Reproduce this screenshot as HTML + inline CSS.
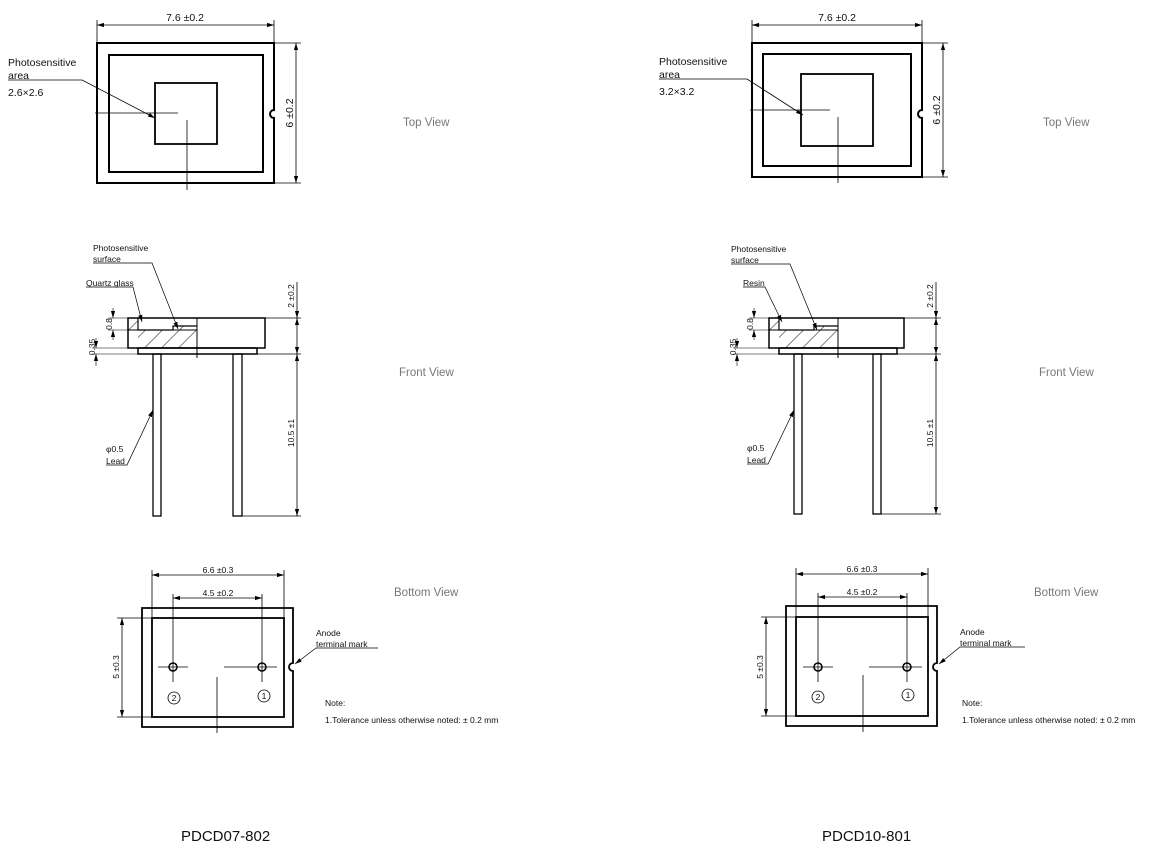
<!DOCTYPE html>
<html><head><meta charset="utf-8"><style>
html,body{margin:0;padding:0;background:#fff;}
svg{display:block;}
text{font-family:"Liberation Sans",Arial,sans-serif;fill:#111;}
.v{fill:#777;font-size:11.5px;}
.s{font-size:10.5px;}
.xs{font-size:8.5px;}
.t{font-size:15px;}
</style></head><body>
<svg width="1163" height="850" viewBox="0 0 1163 850" xmlns="http://www.w3.org/2000/svg">
<defs>
<marker id="a" viewBox="0 0 10 10" refX="10" refY="5" markerWidth="7" markerHeight="7" orient="auto-start-reverse" markerUnits="userSpaceOnUse"><path d="M0,2 L10,5 L0,8 z" fill="#000"/></marker>
<pattern id="h" width="12" height="12" patternUnits="userSpaceOnUse" patternTransform="rotate(45)"><line x1="0" y1="0" x2="0" y2="12" stroke="#000" stroke-width="0.9"/></pattern>
</defs>

<!-- ================= LEFT ================= -->
<g fill="none" stroke="#000">
<path d="M97,43 H274 V110 A4,4 0 0 0 274,118 V183 H97 Z" stroke-width="2"/>
<rect x="109" y="55" width="154" height="117" stroke-width="2"/>
<rect x="155" y="83" width="62" height="61" stroke-width="1.8"/>
<line x1="95" y1="113" x2="178" y2="113" stroke-width="0.8"/>
<line x1="187" y1="120" x2="187" y2="190" stroke-width="0.8"/>
<line x1="97" y1="20" x2="97" y2="43" stroke-width="0.8"/>
<line x1="274" y1="20" x2="274" y2="43" stroke-width="0.8"/>
<line x1="97" y1="25" x2="274" y2="25" stroke-width="0.8" marker-start="url(#a)" marker-end="url(#a)"/>
<line x1="274" y1="43" x2="301" y2="43" stroke-width="0.8"/>
<line x1="274" y1="183" x2="301" y2="183" stroke-width="0.8"/>
<line x1="296" y1="43" x2="296" y2="183" stroke-width="0.8" marker-start="url(#a)" marker-end="url(#a)"/>
<polyline points="8,80 82,80 155,118" stroke-width="0.8" marker-end="url(#a)"/>
</g>
<text x="185" y="21" class="s" text-anchor="middle">7.6 ±0.2</text>
<text transform="translate(293,113) rotate(-90)" class="s" text-anchor="middle">6 ±0.2</text>
<text x="8" y="66" class="s">Photosensitive</text>
<text x="8" y="79" class="s">area</text>
<text x="8" y="96" class="s">2.6×2.6</text>
<text x="403" y="126" class="v">Top View</text>

<g fill="none" stroke="#000">
<path d="M128,330 H173 V326 H197 V348 H138 V330 H128 Z M128,318 H138 V330 H128 Z" fill="url(#h)" stroke="none"/>
<rect x="128" y="318" width="137" height="30" stroke-width="1.5"/>
<rect x="138" y="348" width="119" height="6" stroke-width="1.5"/>
<polyline points="138,318 138,330 173,330 173,326 197,326" stroke-width="1.2"/>
<line x1="197" y1="318" x2="197" y2="358" stroke-width="1"/>
<line x1="128" y1="330" x2="197" y2="330" stroke-width="1"/>
<rect x="153" y="354" width="8" height="162" stroke-width="1.3"/>
<rect x="233" y="354" width="9" height="162" stroke-width="1.3"/>
<line x1="265" y1="318" x2="301" y2="318" stroke-width="0.8"/>
<line x1="257" y1="354" x2="301" y2="354" stroke-width="0.8"/>
<line x1="242" y1="516" x2="301" y2="516" stroke-width="0.8"/>
<line x1="297" y1="282" x2="297" y2="318" stroke-width="0.8" marker-end="url(#a)"/>
<line x1="297" y1="318" x2="297" y2="354" stroke-width="0.8" marker-start="url(#a)" marker-end="url(#a)"/>
<line x1="297" y1="354" x2="297" y2="516" stroke-width="0.8" marker-start="url(#a)" marker-end="url(#a)"/>
<line x1="108" y1="318" x2="128" y2="318" stroke-width="0.6"/>
<line x1="108" y1="330" x2="128" y2="330" stroke-width="0.6"/>
<line x1="113" y1="308" x2="113" y2="318" stroke-width="0.6" marker-end="url(#a)"/>
<line x1="113" y1="340" x2="113" y2="330" stroke-width="0.6" marker-end="url(#a)"/>
<line x1="92" y1="348" x2="128" y2="348" stroke-width="0.6"/>
<line x1="92" y1="354" x2="138" y2="354" stroke-width="0.6"/>
<line x1="96" y1="338" x2="96" y2="348" stroke-width="0.6" marker-end="url(#a)"/>
<line x1="96" y1="366" x2="96" y2="354" stroke-width="0.6" marker-end="url(#a)"/>
<polyline points="93,263 152,263 178,329" stroke-width="0.7" marker-end="url(#a)"/>
<polyline points="86,287 133,287 142,322" stroke-width="0.7" marker-end="url(#a)"/>
<polyline points="106,465 127,465 153,410" stroke-width="0.7" marker-end="url(#a)"/>
</g>
<text x="93" y="251" class="xs">Photosensitive</text>
<text x="93" y="262" class="xs">surface</text>
<text x="86" y="286" class="xs">Quartz glass</text>
<text transform="translate(112,324) rotate(-90)" class="xs" text-anchor="middle">0.8</text>
<text transform="translate(95,347) rotate(-90)" class="xs" text-anchor="middle">0.35</text>
<text transform="translate(294,296) rotate(-90)" class="xs" text-anchor="middle">2 ±0.2</text>
<text transform="translate(294,433) rotate(-90)" class="xs" text-anchor="middle">10.5 ±1</text>
<text x="106" y="452" class="xs">φ0.5</text>
<text x="106" y="464" class="xs">Lead</text>
<text x="399" y="376" class="v">Front View</text>

<g fill="none" stroke="#000">
<path d="M142,608 H293 V663 A4,4 0 0 0 293,671 V727 H142 Z" stroke-width="1.8"/>
<rect x="152" y="618" width="132" height="99" stroke-width="1.8"/>
<circle cx="173" cy="667" r="4" stroke-width="1.5"/>
<circle cx="262" cy="667" r="4" stroke-width="1.5"/>
<line x1="158" y1="667" x2="188" y2="667" stroke-width="0.8"/>
<line x1="173" y1="594" x2="173" y2="682" stroke-width="0.8"/>
<line x1="224" y1="667" x2="277" y2="667" stroke-width="0.8"/>
<line x1="262" y1="594" x2="262" y2="682" stroke-width="0.8"/>
<line x1="217" y1="677" x2="217" y2="733" stroke-width="0.8"/>
<line x1="152" y1="570" x2="152" y2="618" stroke-width="0.8"/>
<line x1="284" y1="570" x2="284" y2="618" stroke-width="0.8"/>
<line x1="152" y1="575" x2="284" y2="575" stroke-width="0.8" marker-start="url(#a)" marker-end="url(#a)"/>
<line x1="173" y1="598" x2="262" y2="598" stroke-width="0.8" marker-start="url(#a)" marker-end="url(#a)"/>
<line x1="117" y1="618" x2="152" y2="618" stroke-width="0.8"/>
<line x1="117" y1="717" x2="152" y2="717" stroke-width="0.8"/>
<line x1="122" y1="618" x2="122" y2="717" stroke-width="0.8" marker-start="url(#a)" marker-end="url(#a)"/>
<circle cx="174" cy="698" r="6" stroke-width="0.8"/>
<circle cx="264" cy="696" r="6" stroke-width="0.8"/>
<polyline points="378,648 316,648 295,664" stroke-width="0.7" marker-end="url(#a)"/>
</g>
<text x="218" y="573" class="xs" text-anchor="middle">6.6 ±0.3</text>
<text x="218" y="596" class="xs" text-anchor="middle">4.5 ±0.2</text>
<text transform="translate(119,667) rotate(-90)" class="xs" text-anchor="middle">5 ±0.3</text>
<text x="174" y="701" class="xs" text-anchor="middle">2</text>
<text x="264" y="699" class="xs" text-anchor="middle">1</text>
<text x="316" y="636" class="xs">Anode</text>
<text x="316" y="647" class="xs">terminal mark</text>
<text x="325" y="706" class="xs">Note:</text>
<text x="325" y="723" class="xs">1.Tolerance unless otherwise noted: ± 0.2 mm</text>
<text x="394" y="596" class="v">Bottom View</text>
<text x="181" y="841" class="t">PDCD07-802</text>

<!-- ================= RIGHT ================= -->
<g transform="translate(655,0)" fill="none" stroke="#000">
<path d="M97,43 H267 V110 A4,4 0 0 0 267,118 V177 H97 Z" stroke-width="2"/>
<rect x="108" y="54" width="148" height="112" stroke-width="2"/>
<rect x="146" y="74" width="72" height="72" stroke-width="1.8"/>
<line x1="95" y1="110" x2="175" y2="110" stroke-width="0.8"/>
<line x1="183" y1="117" x2="183" y2="183" stroke-width="0.8"/>
<line x1="97" y1="20" x2="97" y2="43" stroke-width="0.8"/>
<line x1="267" y1="20" x2="267" y2="43" stroke-width="0.8"/>
<line x1="97" y1="25" x2="267" y2="25" stroke-width="0.8" marker-start="url(#a)" marker-end="url(#a)"/>
<line x1="267" y1="43" x2="293" y2="43" stroke-width="0.8"/>
<line x1="267" y1="177" x2="293" y2="177" stroke-width="0.8"/>
<line x1="288" y1="43" x2="288" y2="177" stroke-width="0.8" marker-start="url(#a)" marker-end="url(#a)"/>
<polyline points="4,79 92,79 148,115" stroke-width="0.8" marker-end="url(#a)"/>
</g>
<text x="837" y="21" class="s" text-anchor="middle">7.6 ±0.2</text>
<text transform="translate(940,110) rotate(-90)" class="s" text-anchor="middle">6 ±0.2</text>
<text x="659" y="65" class="s">Photosensitive</text>
<text x="659" y="78" class="s">area</text>
<text x="659" y="95" class="s">3.2×3.2</text>
<text x="1043" y="126" class="v">Top View</text>

<g transform="translate(641,0)" fill="none" stroke="#000">
<path d="M128,330 H173 V326 H197 V348 H138 V330 H128 Z M128,318 H138 V330 H128 Z" fill="url(#h)" stroke="none"/>
<rect x="128" y="318" width="135" height="30" stroke-width="1.5"/>
<rect x="138" y="348" width="118" height="6" stroke-width="1.5"/>
<polyline points="138,318 138,330 173,330 173,326 197,326" stroke-width="1.2"/>
<line x1="197" y1="318" x2="197" y2="358" stroke-width="1"/>
<line x1="128" y1="330" x2="197" y2="330" stroke-width="1"/>
<rect x="153" y="354" width="8" height="160" stroke-width="1.3"/>
<rect x="232" y="354" width="8" height="160" stroke-width="1.3"/>
<line x1="263" y1="318" x2="300" y2="318" stroke-width="0.8"/>
<line x1="256" y1="354" x2="300" y2="354" stroke-width="0.8"/>
<line x1="240" y1="514" x2="300" y2="514" stroke-width="0.8"/>
<line x1="295" y1="282" x2="295" y2="318" stroke-width="0.8" marker-end="url(#a)"/>
<line x1="295" y1="318" x2="295" y2="354" stroke-width="0.8" marker-start="url(#a)" marker-end="url(#a)"/>
<line x1="295" y1="354" x2="295" y2="514" stroke-width="0.8" marker-start="url(#a)" marker-end="url(#a)"/>
<line x1="108" y1="318" x2="128" y2="318" stroke-width="0.6"/>
<line x1="108" y1="330" x2="128" y2="330" stroke-width="0.6"/>
<line x1="113" y1="308" x2="113" y2="318" stroke-width="0.6" marker-end="url(#a)"/>
<line x1="113" y1="340" x2="113" y2="330" stroke-width="0.6" marker-end="url(#a)"/>
<line x1="92" y1="348" x2="128" y2="348" stroke-width="0.6"/>
<line x1="92" y1="354" x2="138" y2="354" stroke-width="0.6"/>
<line x1="96" y1="338" x2="96" y2="348" stroke-width="0.6" marker-end="url(#a)"/>
<line x1="96" y1="366" x2="96" y2="354" stroke-width="0.6" marker-end="url(#a)"/>
<polyline points="90,264 149,264 176,330" stroke-width="0.7" marker-end="url(#a)"/>
<polyline points="102,287 124,287 141,322" stroke-width="0.7" marker-end="url(#a)"/>
<polyline points="106,464 127,464 153,410" stroke-width="0.7" marker-end="url(#a)"/>
</g>
<text x="731" y="252" class="xs">Photosensitive</text>
<text x="731" y="263" class="xs">surface</text>
<text x="743" y="286" class="xs">Resin</text>
<text transform="translate(753,324) rotate(-90)" class="xs" text-anchor="middle">0.8</text>
<text transform="translate(736,347) rotate(-90)" class="xs" text-anchor="middle">0.35</text>
<text transform="translate(933,296) rotate(-90)" class="xs" text-anchor="middle">2 ±0.2</text>
<text transform="translate(933,433) rotate(-90)" class="xs" text-anchor="middle">10.5 ±1</text>
<text x="747" y="451" class="xs">φ0.5</text>
<text x="747" y="463" class="xs">Lead</text>
<text x="1039" y="376" class="v">Front View</text>

<g transform="translate(644,0)" fill="none" stroke="#000">
<path d="M142,606 H293 V663 A4,4 0 0 0 293,671 V726 H142 Z" stroke-width="1.8"/>
<rect x="152" y="617" width="132" height="99" stroke-width="1.8"/>
<circle cx="174" cy="667" r="4" stroke-width="1.5"/>
<circle cx="263" cy="667" r="4" stroke-width="1.5"/>
<line x1="159" y1="667" x2="189" y2="667" stroke-width="0.8"/>
<line x1="174" y1="593" x2="174" y2="682" stroke-width="0.8"/>
<line x1="225" y1="667" x2="278" y2="667" stroke-width="0.8"/>
<line x1="263" y1="593" x2="263" y2="682" stroke-width="0.8"/>
<line x1="219" y1="675" x2="219" y2="732" stroke-width="0.8"/>
<line x1="152" y1="568" x2="152" y2="617" stroke-width="0.8"/>
<line x1="284" y1="568" x2="284" y2="617" stroke-width="0.8"/>
<line x1="152" y1="574" x2="284" y2="574" stroke-width="0.8" marker-start="url(#a)" marker-end="url(#a)"/>
<line x1="174" y1="597" x2="263" y2="597" stroke-width="0.8" marker-start="url(#a)" marker-end="url(#a)"/>
<line x1="117" y1="617" x2="152" y2="617" stroke-width="0.8"/>
<line x1="117" y1="716" x2="152" y2="716" stroke-width="0.8"/>
<line x1="122" y1="617" x2="122" y2="716" stroke-width="0.8" marker-start="url(#a)" marker-end="url(#a)"/>
<circle cx="174" cy="697" r="6" stroke-width="0.8"/>
<circle cx="264" cy="695" r="6" stroke-width="0.8"/>
<polyline points="381,647 316,647 295,664" stroke-width="0.7" marker-end="url(#a)"/>
</g>
<text x="862" y="572" class="xs" text-anchor="middle">6.6 ±0.3</text>
<text x="862" y="595" class="xs" text-anchor="middle">4.5 ±0.2</text>
<text transform="translate(763,667) rotate(-90)" class="xs" text-anchor="middle">5 ±0.3</text>
<text x="818" y="700" class="xs" text-anchor="middle">2</text>
<text x="908" y="698" class="xs" text-anchor="middle">1</text>
<text x="960" y="635" class="xs">Anode</text>
<text x="960" y="646" class="xs">terminal mark</text>
<text x="962" y="706" class="xs">Note:</text>
<text x="962" y="723" class="xs">1.Tolerance unless otherwise noted: ± 0.2 mm</text>
<text x="1034" y="596" class="v">Bottom View</text>
<text x="822" y="841" class="t">PDCD10-801</text>
</svg>
</body></html>
